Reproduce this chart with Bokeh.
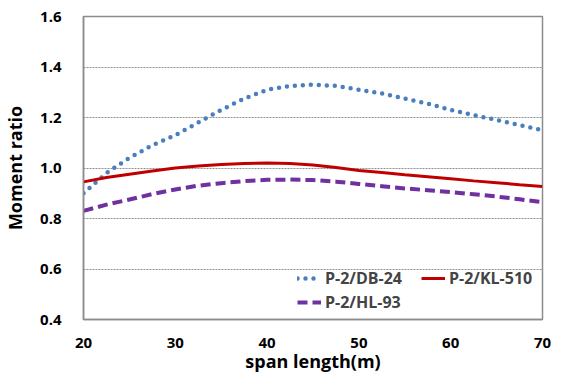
from bokeh.plotting import figure
from bokeh.models import Legend, LegendItem, FixedTicker, ColumnDataSource, CustomJSTickFormatter
from bokeh.embed import file_html
from bokeh.resources import INLINE

span = [20, 22.5, 25, 27.5, 30, 32.5, 35, 37.5, 40, 42.5, 45, 47.5, 50, 52.5, 55, 57.5, 60, 62.5, 65, 67.5, 70]
db24 = [0.90, 0.98, 1.04, 1.09, 1.13, 1.18, 1.23, 1.275, 1.31, 1.325, 1.33, 1.325, 1.31, 1.295, 1.275, 1.255, 1.23, 1.21, 1.19, 1.17, 1.15]
kl510 = [0.945, 0.962, 0.975, 0.988, 1.0, 1.008, 1.014, 1.018, 1.02, 1.018, 1.012, 1.002, 0.99, 0.982, 0.973, 0.965, 0.957, 0.949, 0.942, 0.934, 0.927]
hl93 = [0.83, 0.855, 0.875, 0.897, 0.915, 0.93, 0.94, 0.948, 0.953, 0.954, 0.952, 0.946, 0.937, 0.928, 0.919, 0.912, 0.905, 0.896, 0.887, 0.876, 0.865]
x_ticks = [20, 30, 40, 50, 60, 70]
y_ticks = [0.4, 0.6, 0.8, 1.0, 1.2, 1.4, 1.6]

FONT = "Open Sans"

p = figure(width=563, height=375, output_backend="svg", toolbar_location=None,
           x_range=(20, 70), y_range=(0.4, 1.6),
           min_border_left=79, min_border_right=21, min_border_top=16, min_border_bottom=56)
p.background_fill_color = "white"
p.border_fill_color = "white"
p.outline_line_color = "#8c8c8c"
p.outline_line_width = 1.5

src = ColumnDataSource(dict(x=span, db=db24, kl=kl510, hl=hl93))
r1 = p.line("x", "db", source=src, line_color="#4a7ebf", line_width=4.5, line_dash="0 8", line_cap="round")
r2 = p.line("x", "kl", source=src, line_color="#c00000", line_width=3)
r3 = p.line("x", "hl", source=src, line_color="#7030a0", line_width=4, line_dash="10 5")

p.xgrid.visible = False
p.ygrid.ticker = FixedTicker(ticks=y_ticks)
p.ygrid.grid_line_color = "#909090"
p.ygrid.grid_line_dash = "2 1"
p.ygrid.grid_line_width = 1

p.xaxis.ticker = FixedTicker(ticks=x_ticks)
p.yaxis.ticker = FixedTicker(ticks=y_ticks)
p.yaxis.formatter = CustomJSTickFormatter(code="return tick.toFixed(1);")

for ax in (p.xaxis[0], p.yaxis[0]):
    ax.axis_line_color = "#8c8c8c"
    ax.axis_line_width = 1.5
    ax.major_tick_line_color = None
    ax.minor_tick_line_color = None
    ax.major_label_text_font = FONT
    ax.major_label_text_font_style = "bold"
    ax.major_label_text_font_size = "15px"
    ax.major_label_text_color = "black"
    ax.axis_label_text_font = FONT
    ax.axis_label_text_font_style = "bold"
    ax.axis_label_text_font_size = "18px"
    ax.axis_label_text_color = "black"

p.xaxis.axis_label = "span length(m)"
p.yaxis.axis_label = "Moment ratio"
p.xaxis.major_label_standoff = 12
p.yaxis.major_label_standoff = 16
p.xaxis.axis_label_standoff = -2
p.yaxis.axis_label_standoff = 10

legend = Legend(items=[
    LegendItem(label="P-2/DB-24", renderers=[r1]),
    LegendItem(label="P-2/HL-93", renderers=[r3]),
    LegendItem(label="P-2/KL-510", renderers=[r2]),
], ncols=2, location=(214, 6))
legend.label_text_font = FONT
legend.label_text_font_style = "bold"
legend.label_text_font_size = "16px"
legend.glyph_width = 24
legend.label_standoff = 4
legend.label_width = 94
legend.spacing = 2
legend.padding = 0
legend.margin = 0
legend.border_line_color = None
legend.background_fill_alpha = 0
p.add_layout(legend)

open("out.html", "w").write(file_html(p, INLINE))
